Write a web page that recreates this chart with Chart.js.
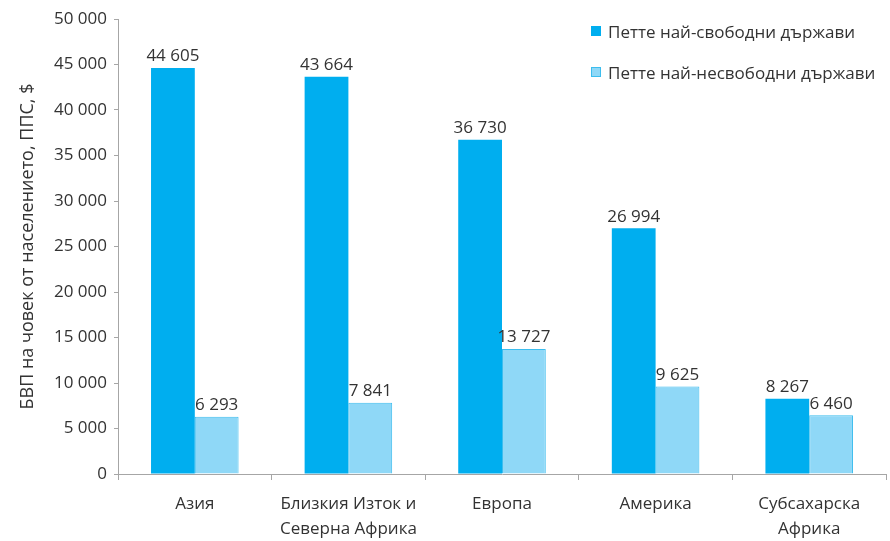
<!DOCTYPE html>
<html>
<head>
<meta charset="utf-8">
<script src="https://cdn.jsdelivr.net/npm/chart.js@4.4.1/dist/chart.umd.min.js"></script>
<style>
  html, body { margin: 0; padding: 0; background: #fff; }
  #wrap { position: relative; width: 890px; height: 541px; }
  #legend { position: absolute; left: 591px; top: 19px; font-family: "Open Sans", sans-serif; font-size: 17px; color: #333; }
  .leg-item { display: flex; align-items: center; height: 24px; margin-bottom: 17px; }
  .leg-box { width: 10px; height: 10px; margin-right: 7px; box-sizing: border-box; }
</style>
</head>
<body>
<div id="wrap">
  <canvas id="chart" width="890" height="541"></canvas>
  <div id="legend"></div>
</div>
<script>
const categories = [['Азия'], ['Близкия Изток и', 'Северна Африка'], ['Европа'], ['Америка'], ['Субсахарска', 'Африка']];
const freeValues = [44605, 43664, 36730, 26994, 8267];
const unfreeValues = [6293, 7841, 13727, 9625, 6460];
const seriesNames = ['Петте най-свободни държави', 'Петте най-несвободни държави'];
const yTicks = [0, 5000, 10000, 15000, 20000, 25000, 30000, 35000, 40000, 45000, 50000];

const FONT = '"Open Sans", sans-serif';
const fmt = v => String(v).replace(/\B(?=(\d{3})+(?!\d))/g, ' ');

// labels above each bar
const valueLabels = {
    id: 'valueLabels',
    afterDatasetsDraw(chart) {
        const ctx = chart.ctx;
        ctx.save();
        ctx.font = '17px ' + FONT;
        ctx.fillStyle = '#333';
        ctx.textAlign = 'center';
        ctx.textBaseline = 'bottom';
        chart.data.datasets.forEach((ds, i) => {
            chart.getDatasetMeta(i).data.forEach((bar, j) => {
                ctx.fillText(fmt(ds.data[j]), bar.x, bar.y - 3);
            });
        });
        ctx.restore();
    }
};

const chart = new Chart(document.getElementById('chart'), {
    type: 'bar',
    data: {
        labels: categories,
        datasets: [
            {
                label: seriesNames[0],
                data: freeValues,
                backgroundColor: '#00aeef',
                borderColor: '#00aeef',
                borderWidth: 0
            },
            {
                label: seriesNames[1],
                data: unfreeValues,
                backgroundColor: '#8fd8f7',
                borderColor: '#3cbdee',
                borderWidth: 1
            }
        ]
    },
    options: {
        responsive: false,
        animation: false,
        layout: { padding: { top: 19, right: 4, left: 17, bottom: 0 } },
        categoryPercentage: 0.57,
        barPercentage: 1,
        plugins: {
            legend: { display: false },
            tooltip: { enabled: false }
        },
        scales: {
            x: {
                afterFit: axis => { axis.height = 67; },
                grid: { offset: true, drawOnChartArea: false, color: '#a6a6a6', tickLength: 6 },
                border: { color: '#a6a6a6' },
                ticks: { color: '#333', font: { family: FONT, size: 17, lineHeight: 1.45 }, padding: 12, maxRotation: 0 }
            },
            y: {
                min: 0,
                max: 50000,
                afterFit: axis => { axis.width = 101; },
                afterBuildTicks: axis => { axis.ticks = yTicks.map(v => ({ value: v })); },
                grid: { drawOnChartArea: false, color: '#a6a6a6', tickLength: 4 },
                border: { color: '#a6a6a6' },
                ticks: { color: '#333', font: { family: FONT, size: 17 }, padding: 7, callback: v => fmt(v) },
                title: { display: true, text: 'БВП на човек от населението, ППС, $', color: '#333', font: { family: FONT, size: 18 }, padding: { top: 0, bottom: 0 } }
            }
        }
    },
    plugins: [valueLabels]
});

const legend = document.getElementById('legend');
chart.data.datasets.forEach(ds => {
    const item = document.createElement('div');
    item.className = 'leg-item';
    item.innerHTML = `<span class="leg-box" style="background:${ds.backgroundColor};border:${ds.borderWidth}px solid ${ds.borderColor}"></span><span>${ds.label}</span>`;
    legend.appendChild(item);
});
</script>
</body>
</html>
